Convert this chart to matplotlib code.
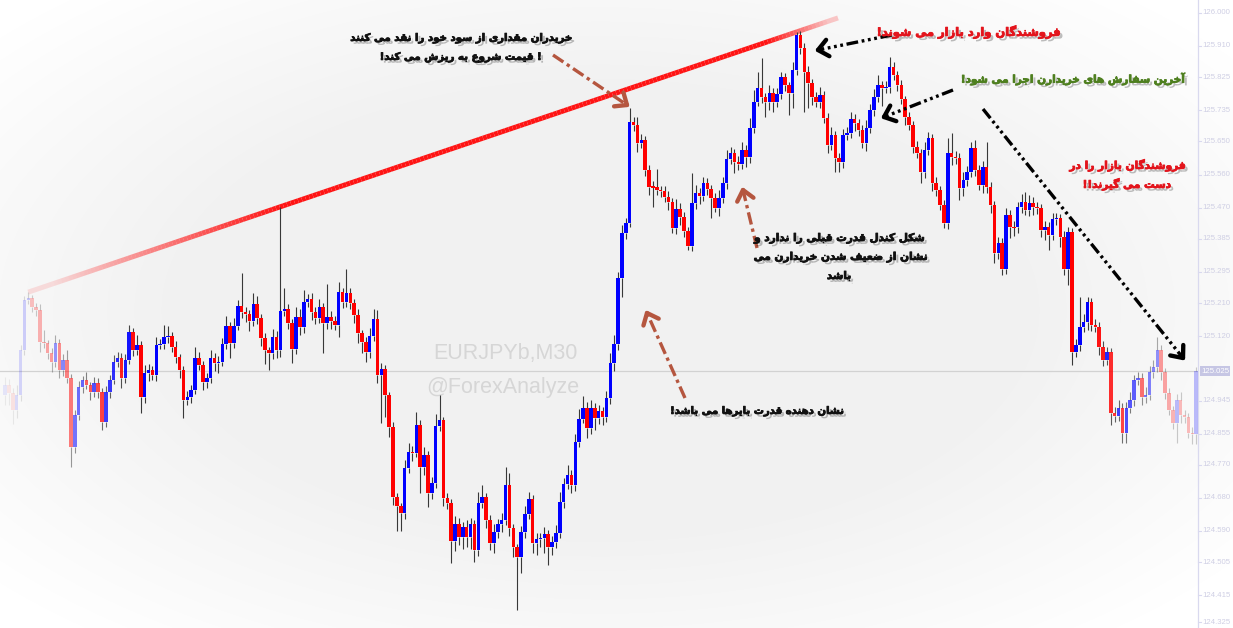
import numpy as np
import matplotlib
matplotlib.use("Agg")
import matplotlib.pyplot as plt
from matplotlib.collections import LineCollection, PolyCollection
import matplotlib.patheffects as pe

plt.rcParams['lines.scale_dashes'] = False

# ------------------------------------------------------------------ data
symbol = "EURJPYb,M30"
watermark = "@ForexAnalyze"
first_open = 124.960

close = [
    124.987, 124.965, 124.919, 124.960, 125.082, 125.218, 125.224, 125.199, 125.191, 125.104,
    125.101, 125.074, 125.050, 125.101, 125.028, 125.055, 125.006, 124.818, 124.905, 124.982,
    125.001, 124.987, 124.968, 124.992, 124.968, 124.886, 124.968, 125.001, 125.050, 125.061,
    125.006, 125.055, 125.131, 125.082, 125.096, 124.954, 125.020, 125.028, 125.014, 125.096,
    125.099, 125.118, 125.120, 125.090, 125.063, 125.028, 124.946, 124.954, 124.973, 125.061,
    125.041, 124.995, 125.006, 125.061, 125.047, 125.049, 125.099, 125.148, 125.101, 125.148,
    125.202, 125.186, 125.180, 125.161, 125.208, 125.169, 125.115, 125.082, 125.074, 125.118,
    125.082, 125.189, 125.194, 125.156, 125.085, 125.172, 125.145, 125.213, 125.221, 125.186,
    125.169, 125.199, 125.156, 125.172, 125.161, 125.150, 125.240, 125.213, 125.238, 125.210,
    125.178, 125.129, 125.104, 125.077, 125.120, 125.167, 125.014, 125.031, 124.960, 124.873,
    124.682, 124.658, 124.639, 124.761, 124.805, 124.802, 124.878, 124.764, 124.797, 124.693,
    124.720, 124.875, 124.892, 124.679, 124.666, 124.562, 124.609, 124.573, 124.601, 124.573,
    124.609, 124.538, 124.666, 124.682, 124.620, 124.557, 124.587, 124.609, 124.620, 124.715,
    124.598, 124.546, 124.519, 124.587, 124.636, 124.677, 124.557, 124.568, 124.571, 124.582,
    124.546, 124.560, 124.584, 124.669, 124.718, 124.742, 124.715, 124.832, 124.894, 124.924,
    124.870, 124.924, 124.897, 124.916, 124.900, 124.952, 125.047, 125.099, 125.278, 125.401,
    125.428, 125.703, 125.695, 125.646, 125.654, 125.572, 125.526, 125.525, 125.518, 125.515,
    125.499, 125.485, 125.414, 125.466, 125.444, 125.406, 125.365, 125.482, 125.510, 125.502,
    125.537, 125.521, 125.496, 125.469, 125.496, 125.537, 125.602, 125.619, 125.594, 125.589,
    125.627, 125.608, 125.687, 125.757, 125.795, 125.771, 125.757, 125.782, 125.757, 125.779,
    125.825, 125.804, 125.782, 125.844, 125.940, 125.904, 125.839, 125.809, 125.771, 125.757,
    125.776, 125.714, 125.640, 125.668, 125.605, 125.594, 125.668, 125.673, 125.711, 125.700,
    125.681, 125.646, 125.687, 125.736, 125.771, 125.804, 125.795, 125.798, 125.853, 125.831,
    125.804, 125.766, 125.717, 125.695, 125.635, 125.619, 125.567, 125.627, 125.659, 125.537,
    125.518, 125.477, 125.428, 125.619, 125.608, 125.605, 125.523, 125.545, 125.567, 125.632,
    125.572, 125.531, 125.580, 125.526, 125.477, 125.346, 125.374, 125.303, 125.450, 125.417,
    125.416, 125.472, 125.485, 125.463, 125.482, 125.472, 125.469, 125.409, 125.417, 125.395,
    125.439, 125.442, 125.390, 125.303, 125.404, 125.077, 125.096, 125.145, 125.159, 125.213,
    125.150, 125.145, 125.090, 125.055, 125.077, 124.911, 124.903, 124.924, 124.856, 124.924,
    124.946, 125.001, 125.006, 124.954, 124.960, 125.022, 125.036, 125.082, 125.022, 124.965,
    124.919, 124.884, 124.946, 124.905, 124.900, 124.856, 124.855, 125.025,
]

upper_wick = [
    0.022, 0.016, 0.014, 0.027, 0.014, 0.011, 0.016, 0.008, 0.011, 0.016,
    0.033, 0.008, 0.014, 0.022, 0.011, 0.016, 0.027, 0.011, 0.014, 0.016,
    0.011, 0.022, 0.008, 0.016, 0.014, 0.011, 0.016, 0.014, 0.019, 0.016,
    0.014, 0.016, 0.019, 0.011, 0.027, 0.011, 0.022, 0.016, 0.011, 0.022,
    0.014, 0.033, 0.027, 0.011, 0.016, 0.008, 0.011, 0.016, 0.014, 0.030,
    0.016, 0.011, 0.014, 0.022, 0.014, 0.016, 0.016, 0.027, 0.011, 0.022,
    0.016, 0.090, 0.014, 0.011, 0.030, 0.022, 0.011, 0.014, 0.008, 0.022,
    0.016, 0.283, 0.057, 0.014, 0.011, 0.027, 0.022, 0.033, 0.014, 0.016,
    0.014, 0.022, 0.011, 0.090, 0.016, 0.014, 0.027, 0.011, 0.065, 0.014,
    0.011, 0.016, 0.008, 0.014, 0.022, 0.027, 0.024, 0.016, 0.011, 0.008,
    0.014, 0.011, 0.008, 0.022, 0.024, 0.016, 0.035, 0.014, 0.022, 0.011,
    0.016, 0.033, 0.068, 0.008, 0.014, 0.011, 0.022, 0.016, 0.014, 0.019,
    0.016, 0.011, 0.030, 0.033, 0.011, 0.014, 0.022, 0.014, 0.019, 0.049,
    0.033, 0.011, 0.008, 0.016, 0.022, 0.019, 0.011, 0.016, 0.014, 0.019,
    0.011, 0.016, 0.022, 0.027, 0.016, 0.027, 0.014, 0.022, 0.027, 0.033,
    0.016, 0.022, 0.014, 0.016, 0.011, 0.019, 0.027, 0.024, 0.016, 0.022,
    0.014, 0.038, 0.014, 0.022, 0.016, 0.011, 0.014, 0.016, 0.049, 0.011,
    0.014, 0.016, 0.011, 0.027, 0.016, 0.014, 0.011, 0.082, 0.022, 0.014,
    0.016, 0.014, 0.011, 0.014, 0.022, 0.016, 0.024, 0.016, 0.011, 0.016,
    0.022, 0.014, 0.027, 0.033, 0.044, 0.082, 0.011, 0.022, 0.014, 0.016,
    0.014, 0.011, 0.008, 0.022, 0.008, 0.011, 0.014, 0.016, 0.011, 0.014,
    0.022, 0.011, 0.014, 0.022, 0.011, 0.014, 0.016, 0.016, 0.019, 0.014,
    0.011, 0.014, 0.022, 0.016, 0.022, 0.027, 0.011, 0.016, 0.027, 0.014,
    0.011, 0.014, 0.008, 0.014, 0.011, 0.016, 0.011, 0.022, 0.016, 0.011,
    0.016, 0.011, 0.014, 0.041, 0.054, 0.016, 0.014, 0.022, 0.016, 0.016,
    0.022, 0.014, 0.016, 0.068, 0.014, 0.011, 0.016, 0.014, 0.019, 0.014,
    0.016, 0.014, 0.022, 0.027, 0.022, 0.016, 0.014, 0.011, 0.016, 0.014,
    0.016, 0.014, 0.011, 0.016, 0.014, 0.011, 0.016, 0.082, 0.022, 0.014,
    0.011, 0.016, 0.014, 0.016, 0.014, 0.011, 0.016, 0.022, 0.014, 0.016,
    0.022, 0.014, 0.016, 0.014, 0.022, 0.016, 0.019, 0.035, 0.014, 0.011,
    0.014, 0.011, 0.016, 0.022, 0.014, 0.011, 0.016, 0.011,
]

lower_wick = [
    0.027, 0.033, 0.038, 0.022, 0.016, 0.014, 0.011, 0.014, 0.016, 0.027,
    0.014, 0.016, 0.027, 0.014, 0.022, 0.016, 0.014, 0.054, 0.016, 0.014,
    0.016, 0.011, 0.022, 0.014, 0.016, 0.022, 0.014, 0.016, 0.011, 0.014,
    0.027, 0.014, 0.011, 0.016, 0.014, 0.044, 0.016, 0.022, 0.014, 0.016,
    0.011, 0.014, 0.016, 0.014, 0.016, 0.022, 0.049, 0.014, 0.016, 0.011,
    0.014, 0.022, 0.016, 0.014, 0.022, 0.027, 0.011, 0.014, 0.041, 0.014,
    0.011, 0.016, 0.022, 0.027, 0.014, 0.016, 0.022, 0.038, 0.046, 0.016,
    0.022, 0.019, 0.014, 0.016, 0.038, 0.014, 0.022, 0.016, 0.014, 0.022,
    0.016, 0.014, 0.082, 0.016, 0.022, 0.014, 0.033, 0.016, 0.014, 0.016,
    0.022, 0.027, 0.030, 0.027, 0.016, 0.014, 0.022, 0.131, 0.060, 0.027,
    0.022, 0.068, 0.049, 0.016, 0.014, 0.022, 0.011, 0.071, 0.022, 0.038,
    0.016, 0.014, 0.014, 0.022, 0.016, 0.060, 0.027, 0.022, 0.033, 0.027,
    0.033, 0.033, 0.016, 0.014, 0.022, 0.019, 0.027, 0.016, 0.022, 0.014,
    0.022, 0.027, 0.144, 0.044, 0.016, 0.014, 0.027, 0.033, 0.022, 0.041,
    0.049, 0.022, 0.016, 0.014, 0.016, 0.014, 0.022, 0.016, 0.014, 0.011,
    0.027, 0.016, 0.033, 0.016, 0.022, 0.014, 0.016, 0.022, 0.016, 0.052,
    0.016, 0.011, 0.016, 0.024, 0.014, 0.016, 0.022, 0.054, 0.014, 0.016,
    0.014, 0.022, 0.014, 0.016, 0.022, 0.016, 0.011, 0.014, 0.016, 0.022,
    0.014, 0.016, 0.054, 0.011, 0.022, 0.014, 0.016, 0.014, 0.030, 0.016,
    0.014, 0.027, 0.016, 0.014, 0.011, 0.016, 0.041, 0.022, 0.027, 0.014,
    0.014, 0.016, 0.060, 0.041, 0.014, 0.016, 0.109, 0.068, 0.022, 0.014,
    0.016, 0.014, 0.022, 0.014, 0.038, 0.027, 0.016, 0.014, 0.014, 0.022,
    0.016, 0.014, 0.022, 0.014, 0.016, 0.014, 0.049, 0.014, 0.016, 0.014,
    0.016, 0.014, 0.022, 0.014, 0.016, 0.014, 0.030, 0.016, 0.014, 0.022,
    0.016, 0.014, 0.014, 0.016, 0.022, 0.016, 0.033, 0.022, 0.016, 0.014,
    0.016, 0.014, 0.022, 0.016, 0.022, 0.027, 0.016, 0.016, 0.014, 0.030,
    0.022, 0.014, 0.016, 0.014, 0.016, 0.022, 0.016, 0.019, 0.027, 0.041,
    0.014, 0.016, 0.027, 0.016, 0.044, 0.035, 0.014, 0.016, 0.014, 0.022,
    0.016, 0.014, 0.022, 0.016, 0.014, 0.033, 0.016, 0.014, 0.027, 0.027,
    0.014, 0.016, 0.014, 0.022, 0.016, 0.014, 0.016, 0.014, 0.022, 0.016,
    0.014, 0.016, 0.054, 0.022, 0.016, 0.014, 0.027, 0.027,
]

axis_labels = ["126.000", "125.910", "125.825", "125.735", "125.650", "125.560",
               "125.470", "125.385", "125.295", "125.210", "125.120",
               "124.945", "124.855", "124.770", "124.680", "124.590",
               "124.505", "124.415", "124.325"]
last_price = 125.025
last_price_label = "125.025"

# trend line anchored on the highs of these two candles
trend_from, trend_to = 6, 204

note1 = ["خریدران مقداری از سود خود را نقد می کنند", "! قیمت شروع به ریزش می کند!"]
note2 = ["فروشندگان وارد بازار می شوند!"]
note3 = ["آخرین سفارش های خریدارن اجرا می شود!"]
note4 = ["فروشندگان بازار را در", "دست می گیرند!!"]
note5 = ["شکل کندل قدرت قبلی را ندارد و", "نشان از ضعیف شدن خریدارن می", "باشد"]
note6 = ["نشان دهنده قدرت بایرها می باشد!"]

# ------------------------------------------------------------------ Persian shaping
FORMS = {
    '\u0622': ('\uFE81', '\uFE82', None, None),
    '\u0627': ('\uFE8D', '\uFE8E', None, None),
    '\u0628': ('\uFE8F', '\uFE90', '\uFE91', '\uFE92'),
    '\u067E': ('\uFB56', '\uFB57', '\uFB58', '\uFB59'),
    '\u062A': ('\uFE95', '\uFE96', '\uFE97', '\uFE98'),
    '\u062B': ('\uFE99', '\uFE9A', '\uFE9B', '\uFE9C'),
    '\u062C': ('\uFE9D', '\uFE9E', '\uFE9F', '\uFEA0'),
    '\u0686': ('\uFB7A', '\uFB7B', '\uFB7C', '\uFB7D'),
    '\u062D': ('\uFEA1', '\uFEA2', '\uFEA3', '\uFEA4'),
    '\u062E': ('\uFEA5', '\uFEA6', '\uFEA7', '\uFEA8'),
    '\u062F': ('\uFEA9', '\uFEAA', None, None),
    '\u0630': ('\uFEAB', '\uFEAC', None, None),
    '\u0631': ('\uFEAD', '\uFEAE', None, None),
    '\u0632': ('\uFEAF', '\uFEB0', None, None),
    '\u0698': ('\uFB8A', '\uFB8B', None, None),
    '\u0633': ('\uFEB1', '\uFEB2', '\uFEB3', '\uFEB4'),
    '\u0634': ('\uFEB5', '\uFEB6', '\uFEB7', '\uFEB8'),
    '\u0635': ('\uFEB9', '\uFEBA', '\uFEBB', '\uFEBC'),
    '\u0636': ('\uFEBD', '\uFEBE', '\uFEBF', '\uFEC0'),
    '\u0637': ('\uFEC1', '\uFEC2', '\uFEC3', '\uFEC4'),
    '\u0638': ('\uFEC5', '\uFEC6', '\uFEC7', '\uFEC8'),
    '\u0639': ('\uFEC9', '\uFECA', '\uFECB', '\uFECC'),
    '\u063A': ('\uFECD', '\uFECE', '\uFECF', '\uFED0'),
    '\u0641': ('\uFED1', '\uFED2', '\uFED3', '\uFED4'),
    '\u0642': ('\uFED5', '\uFED6', '\uFED7', '\uFED8'),
    '\u06A9': ('\uFB8E', '\uFB8F', '\uFB90', '\uFB91'),
    '\u0643': ('\uFED9', '\uFEDA', '\uFEDB', '\uFEDC'),
    '\u06AF': ('\uFB92', '\uFB93', '\uFB94', '\uFB95'),
    '\u0644': ('\uFEDD', '\uFEDE', '\uFEDF', '\uFEE0'),
    '\u0645': ('\uFEE1', '\uFEE2', '\uFEE3', '\uFEE4'),
    '\u0646': ('\uFEE5', '\uFEE6', '\uFEE7', '\uFEE8'),
    '\u0648': ('\uFEED', '\uFEEE', None, None),
    '\u0647': ('\uFEE9', '\uFEEA', '\uFEEB', '\uFEEC'),
    '\u06CC': ('\uFBFC', '\uFBFD', '\uFBFE', '\uFBFF'),
    '\u064A': ('\uFEF1', '\uFEF2', '\uFEF3', '\uFEF4'),
}


def shape_rtl(s):
    def joins_fwd(ch):
        return ch in FORMS and FORMS[ch][2] is not None
    out, k, n = [], 0, len(s)
    while k < n:
        ch = s[k]
        if ch not in FORMS:
            out.append(ch)
            k += 1
            continue
        prev = s[k - 1] if k > 0 else ''
        nxt = s[k + 1] if k + 1 < n else ''
        pj = joins_fwd(prev)
        if ch == '\u0644' and nxt in ('\u0627', '\u0622'):
            lig = {'\u0627': ('\uFEFB', '\uFEFC'), '\u0622': ('\uFEF5', '\uFEF6')}[nxt]
            out.append(lig[1] if pj else lig[0])
            k += 2
            continue
        nj = nxt in FORMS
        iso, fin, ini, med = FORMS[ch]
        if pj and nj and med:
            out.append(med)
        elif pj:
            out.append(fin)
        elif nj and ini:
            out.append(ini)
        else:
            out.append(iso)
        k += 1
    return ''.join(reversed(out))


# ------------------------------------------------------------------ layout
W, H, DPI = 1233, 628, 100
X0, DX = 5.0, 3.88            # pixel of first candle, pixels per candle
P_TOP, P_BOT = 126.035, 124.326
AXIS_PX = 1198

fig = plt.figure(figsize=(W / DPI, H / DPI), dpi=DPI)

# background (pixel coordinates)
bg = fig.add_axes([0, 0, 1, 1])
yy, xx = np.mgrid[0:H, 0:W]
d = np.sqrt(((xx - 600) / 720.0) ** 2 + ((yy - 310) / 380.0) ** 2)
shade = 0.948 + 0.052 * np.clip((d - 0.6) / 0.5, 0, 1)
bg.imshow(np.dstack([shade, shade, shade]), extent=(0, W, H, 0), aspect='auto',
          interpolation='bilinear')
bg.set_xlim(0, W)
bg.set_ylim(H, 0)
bg.axis('off')
bg.text(505, 353, symbol, ha='center', va='center', fontsize=15.5,
        family='Liberation Sans', color='#d6d6d6')
bg.text(503, 387, watermark, ha='center', va='center', fontsize=15.5,
        family='Liberation Sans', color='#d6d6d6')

# price axes (candle index vs price)
ax = fig.add_axes([0, 0, 1, 1])
ax.set_xlim(-X0 / DX, (W - X0) / DX)
ax.set_ylim(P_BOT, P_TOP)
ax.axis('off')
axis_x = (AXIS_PX - X0) / DX
px_x = 1.0 / DX
px_y = (P_TOP - P_BOT) / H

c = np.array(close)
n = len(c)
idx = np.arange(n)
o = np.r_[first_open, c[:-1]]
top = np.maximum(o, c)
bot = np.minimum(o, c)
hi = top + np.array(upper_wick)
lo = bot - np.array(lower_wick)
xpix = X0 + DX * idx
alpha = np.clip(xpix / 140.0, 0.08, 1.0) * np.clip((1205 - xpix) / 115.0, 0.25, 1.0)

# current price line and axis
ax.plot([ax.get_xlim()[0], axis_x], [last_price, last_price], color='#d2d2d2', lw=0.9, zorder=1)
ax.plot([axis_x, axis_x], [P_BOT, P_TOP], color='#d9d9ef', lw=0.9, zorder=1)

# trend line with fading ends
t0, t1 = trend_from, trend_to
slope = (hi[t1] - hi[t0]) / (t1 - t0)
tx = np.linspace(t0, (838 - X0) / DX, 220)
ty = hi[t0] + slope * (tx - t0)
tpx = X0 + DX * tx
ta = np.clip((tpx - 20) / 260.0, 0.12, 1.0) * np.clip((845 - tpx) / 80.0, 0.22, 1.0)
tsegs = [[(tx[k], ty[k]), (tx[k + 1], ty[k + 1])] for k in range(len(tx) - 1)]
tcols = [(1.0, 0.08, 0.08, ta[k]) for k in range(len(tx) - 1)]
ax.add_collection(LineCollection(tsegs, colors=tcols, linewidths=3.6, zorder=2,
                                 capstyle='butt'))

# candles
wsegs, wcols = [], []
for k in range(n):
    wc = (0.22, 0.22, 0.22, alpha[k])
    wsegs.append([(k, top[k]), (k, hi[k])]); wcols.append(wc)
    wsegs.append([(k, bot[k]), (k, lo[k])]); wcols.append(wc)
ax.add_collection(LineCollection(wsegs, colors=wcols, linewidths=0.8, zorder=3))

bw = 0.45
polys, bcols = [], []
for k in range(n):
    b0, b1 = bot[k], top[k]
    if b1 - b0 < 0.004:
        m = 0.5 * (b0 + b1)
        b0, b1 = m - 0.002, m + 0.002
    polys.append([(k - bw, b0), (k + bw, b0), (k + bw, b1), (k - bw, b1)])
    bcols.append((0, 0, 1, alpha[k]) if c[k] >= o[k] else (1, 0, 0, alpha[k]))
ax.add_collection(PolyCollection(polys, facecolors=bcols, edgecolors='none', zorder=4))

# right price scale
for lab in axis_labels:
    v = max(float(lab), P_BOT + 6 * px_y)
    ax.plot([axis_x, axis_x + 3 * px_x], [v, v], color='#d9d9ef', lw=0.8, zorder=1)
    ax.text(axis_x + 4 * px_x, v, lab, ha='left', va='center', fontsize=5.6,
            family='Liberation Sans', color='#cfcfe4')
ax.text(axis_x + 3 * px_x, last_price, last_price_label, ha='left', va='center',
        fontsize=5.6, family='Liberation Sans', color='white',
        bbox=dict(facecolor='#c6c6e4', edgecolor='none', pad=1.0))

# ------------------------------------------------------------------ annotations (pixel coords)
ov = fig.add_axes([0, 0, 1, 1])
ov.set_xlim(0, W)
ov.set_ylim(H, 0)
ov.axis('off')

BLACK_DASH = (0, (8.5, 2.6, 2.0, 2.6, 2.0, 2.6, 2.0, 2.6))
BROWN_DASH = (0, (9.0, 3.0, 2.4, 3.0))
BROWN = '#b5563f'


def arrow(tail, tip, color, dashes, lw=2.4, head=13.0, ang=40):
    x0, y0 = tail
    x1, y1 = tip
    dist = np.hypot(x1 - x0, y1 - y0)
    ux, uy = (x1 - x0) / dist, (y1 - y0) / dist
    ov.plot([x0, x1 - ux * 3], [y0, y1 - uy * 3], color=color, lw=lw,
            linestyle=dashes, dash_capstyle='butt', zorder=6)
    for s in (1, -1):
        a = np.deg2rad(ang * s)
        rx = np.cos(a) * (-ux) - np.sin(a) * (-uy)
        ry = np.sin(a) * (-ux) + np.cos(a) * (-uy)
        ov.plot([x1, x1 + head * rx], [y1, y1 + head * ry], color=color,
                lw=lw * 1.3, solid_capstyle='round', zorder=6)


arrow((553, 55), (627, 105), BROWN, BROWN_DASH)
arrow((892, 35), (818, 50), 'black', BLACK_DASH)
arrow((953, 90), (884, 117), 'black', BLACK_DASH)
arrow((983, 109), (1183, 358), 'black', BLACK_DASH)
arrow((685, 398), (647, 313), BROWN, BROWN_DASH)
arrow((757, 248), (743, 190), BROWN, BROWN_DASH)

fig.canvas.draw()
renderer = fig.canvas.get_renderer()


def note(lines, centers, target_w, color):
    effects = [pe.SimplePatchShadow(offset=(2.0, -2.0), shadow_rgbFace='black', alpha=0.25),
               pe.Stroke(linewidth=0.6, foreground=color), pe.Normal()]
    txts = []
    for s, (cx, cy) in zip(lines, centers):
        t = ov.text(cx, cy, shape_rtl(s), ha='center', va='center', fontsize=9,
                    fontweight='bold', family='DejaVu Sans', color=color,
                    path_effects=effects, zorder=7)
        txts.append(t)
    wmax = max(t.get_window_extent(renderer).width for t in txts)
    for t in txts:
        t.set_fontsize(9 * target_w / wmax)


note(note1, [(462, 38), (461, 57)], 222, '#111111')
note(note2, [(969, 32)], 184, '#e3141c')
note(note3, [(1073, 79)], 224, '#4e7f1f')
note(note4, [(1128, 165), (1127, 184)], 116, '#e3141c')
note(note5, [(839, 238), (840, 257), (839, 276)], 174, '#111111')
note(note6, [(757, 411)], 174, '#111111')

fig.savefig('out.png', dpi=DPI)
